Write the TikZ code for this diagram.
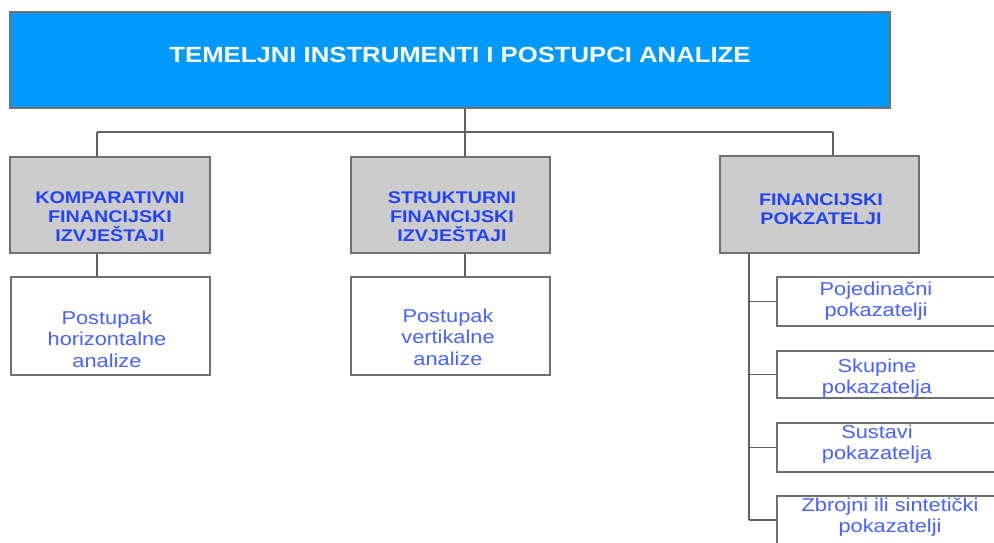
\documentclass[tikz,border=0pt]{standalone}
\usepackage{fontspec}
\setmainfont[FakeStretch=1.17]{Liberation Sans}

\definecolor{topblue}{HTML}{0099FF}
\definecolor{boxgray}{HTML}{CCCCCC}
\definecolor{edgegray}{HTML}{707070}
\definecolor{linegray}{HTML}{606060}
\definecolor{headblue}{HTML}{2244F5}
\definecolor{itemblue}{HTML}{4862FF}

\tikzset{
    topbox/.style={draw=edgegray, line width=0.9pt, fill=topblue, inner sep=0pt},
    headbox/.style={draw=edgegray, line width=0.9pt, fill=boxgray, inner sep=0pt},
    itembox/.style={draw=edgegray, line width=0.9pt, fill=white, inner sep=0pt},
    toptext/.style={text=white, font=\bfseries\fontsize{12.5}{15}\selectfont, inner sep=0pt},
    headtext/.style={text=headblue, align=center, font=\bfseries\fontsize{9.6}{10.9}\selectfont, inner sep=0pt},
    itemtext/.style={text=itemblue, align=center, font=\fontsize{10.6}{12.2}\selectfont, inner sep=0pt},
    link/.style={draw=linegray, line width=0.7pt}
}

\begin{document}
\begin{tikzpicture}[x=0.02cm, y=-0.02cm]

    % Page frame, sizes given in pixels of the reference
    \useasboundingbox (0,0) rectangle (994,542);
    \clip (0,0) rectangle (994,542);

    % Title box
    \node[topbox, minimum width=17.6cm, minimum height=1.92cm] (top) at (450,60) {};
    \node[toptext] (topT) at (460,55) {TEMELJNI INSTRUMENTI I POSTUPCI ANALIZE};

    % The three grey headings
    \node[headbox, minimum width=4cm, minimum height=1.92cm] (komp) at (110,205) {};
    \node[headbox, minimum width=3.98cm, minimum height=1.92cm] (strk) at (450.5,205) {};
    \node[headbox, minimum width=3.98cm, minimum height=1.94cm] (fpok) at (819.5,204.5) {};
    \node[headtext] (kompT) at (110,217) {KOMPARATIVNI\\FINANCIJSKI\\IZVJEŠTAJI};
    \node[headtext] (strkT) at (452,217) {STRUKTURNI\\FINANCIJSKI\\IZVJEŠTAJI};
    \node[headtext] (fpokT) at (821,209) {FINANCIJSKI\\POKZATELJI};

    % White boxes below the first two headings
    \node[itembox, minimum width=3.98cm, minimum height=1.96cm] (horz) at (110.5,326) {};
    \node[itembox, minimum width=3.98cm, minimum height=1.96cm] (vert) at (450.5,326) {};
    \node[itemtext] (horzT) at (107,339) {Postupak\\horizontalne\\analize};
    \node[itemtext] (vertT) at (448,337) {Postupak\\vertikalne\\analize};

    % Boxes of the third column, running past the right edge
    \node[itembox, minimum width=4.66cm, minimum height=0.98cm] (pojd) at (893.5,301.5) {};
    \node[itembox, minimum width=4.66cm, minimum height=0.94cm] (skup) at (893.5,374.5) {};
    \node[itembox, minimum width=4.66cm, minimum height=0.98cm] (sust) at (893.5,447.5) {};
    \node[itembox, minimum width=4.66cm, minimum height=0.96cm] (zbro) at (893.5,520) {};
    \node[itemtext] (pojdT) at (876,301) {Pojedinačni\\pokazatelji};
    \node[itemtext] (skupT) at (877,378) {Skupine\\pokazatelja};
    \node[itemtext] (sustT) at (877,444) {Sustavi\\pokazatelja};
    \node[itemtext] (zbroT) at (890,517) {Zbrojni ili sintetički\\pokazatelji};

    % Bus under the title
    \coordinate (busL) at (97,132);
    \coordinate (busM) at (465,132);
    \coordinate (busR) at (833,132);
    \draw[link] (busM |- top.south) -- (busM);
    \draw[link] (busL) -- (busR);
    \draw[link] (busL) -- (busL |- komp.north);
    \draw[link] (busM) -- (busM |- strk.north);
    \draw[link] (busR) -- (busR |- fpok.north);

    % Headings to their white boxes
    \draw[link] (busL |- komp.south) -- (busL |- horz.north);
    \draw[link] (busM |- strk.south) -- (busM |- vert.north);

    % Spine of the third column
    \coordinate (spine) at (749,520);
    \draw[link] (spine |- fpok.south) -- (spine);
    \foreach \b in {pojd,skup,sust,zbro}
        \draw[link] (spine |- \b.west) -- (\b.west);

\end{tikzpicture}
\end{document}
